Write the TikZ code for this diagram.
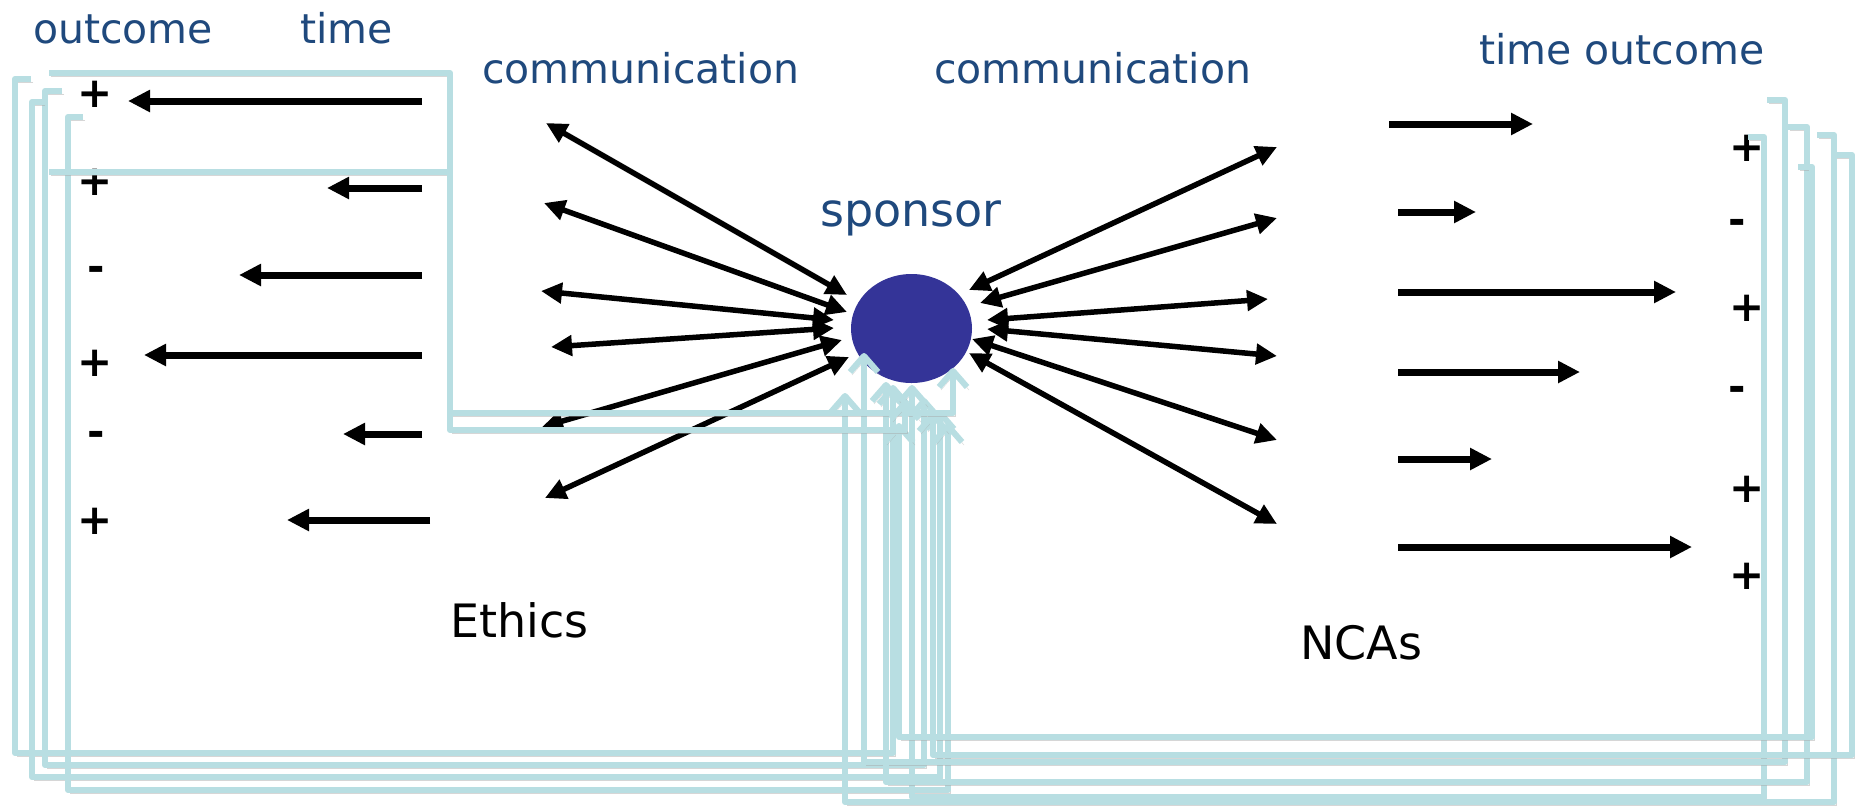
\documentclass[tikz,border=0pt]{standalone}
\usepackage{fontspec}
\setmainfont{DejaVu Sans}
\usetikzlibrary{arrows.meta,shapes.geometric}
\definecolor{lblue}{RGB}{184,222,226}
\definecolor{tblue}{RGB}{31,73,125}
\definecolor{spblue}{RGB}{52,52,152}
\begin{document}
\begin{tikzpicture}[x=1pt,y=-1pt,
  lbl/.style={text=tblue,font=\fontsize{41}{45}\selectfont,inner sep=0pt,anchor=base west},
  blk/.style={text=black,font=\fontsize{46}{50}\selectfont,inner sep=0pt,anchor=base west},
  sign/.style={font=\fontsize{42}{46}\selectfont\bfseries,inner sep=0pt},
  tarrow/.style={line width=7pt,-{Triangle[length=22pt,width=21pt]}},
  carrow/.style={line width=5.5pt,{Triangle[length=21pt,width=20pt]}-{Triangle[length=21pt,width=20pt]}},
  fb/.style={draw=lblue,line width=6pt,line join=round,
     -{Straight Barb[length=16pt,width=28pt,line join=round]},
     preaction={draw=black!35,opacity=0.45,transform canvas={shift={(2,3)}}}}
]
\useasboundingbox (0,0) rectangle (1866,809);
\fill[white] (0,0) rectangle (1866,809);

% labels
\node[lbl] (lout) at (33,43) {outcome};
\node[lbl] (ltime) at (300,43) {time};
\node[lbl] (lcom) at (482,83) {communication};
\node[lbl] (rcom) at (934,83) {communication};
\node[lbl] (rto) at (1479,64) {time outcome};
\node[lbl,font=\fontsize{46}{50}\selectfont] (sptxt) at (820,226) {sponsor};
\node[blk] (eth) at (450,637) {Ethics};
\node[blk] (nca) at (1300,659) {NCAs};

% sponsor
\node[ellipse,fill=spblue,minimum width=121pt,minimum height=109pt,inner sep=0pt] (sponsor) at (911.5,328.5) {};

% left signs
\node[sign] (ls1) at (95,94) {+};
\node[sign] (ls2) at (95,182) {+};
\node[sign] (ls3) at (96,274) {-};
\node[sign] (ls4) at (95,363) {+};
\node[sign] (ls5) at (96,439) {-};
\node[sign] (ls6) at (95,521) {+};
% right signs
\node[sign] (rs1) at (1747,148) {+};
\node[sign] (rs2) at (1737,227) {-};
\node[sign] (rs3) at (1747,308) {+};
\node[sign] (rs4) at (1737,394) {-};
\node[sign] (rs5) at (1747,489) {+};
\node[sign] (rs6) at (1747,576) {+};

% left time arrows
\coordinate (lt1) at (422,101); \coordinate (lh1) at (128,101);
\coordinate (lt2) at (422,188); \coordinate (lh2) at (327,188);
\coordinate (lt3) at (422,275); \coordinate (lh3) at (239,275);
\coordinate (lt4) at (422,355); \coordinate (lh4) at (144,355);
\coordinate (lt5) at (422,434); \coordinate (lh5) at (343,434);
\coordinate (lt6) at (430,520); \coordinate (lh6) at (287,520);
\foreach \i in {1,...,6} {\draw[tarrow] (lt\i) -- (lh\i);}

% right time arrows
\coordinate (rt1) at (1389,124); \coordinate (rh1) at (1533,124);
\coordinate (rt2) at (1398,212); \coordinate (rh2) at (1476,212);
\coordinate (rt3) at (1398,292); \coordinate (rh3) at (1676,292);
\coordinate (rt4) at (1398,372); \coordinate (rh4) at (1580,372);
\coordinate (rt5) at (1398,459); \coordinate (rh5) at (1492,459);
\coordinate (rt6) at (1398,547); \coordinate (rh6) at (1692,547);
\foreach \i in {1,...,6} {\draw[tarrow] (rt\i) -- (rh\i);}

% communication arrows, left
\coordinate (lc1) at (546,123); \coordinate (sl1) at (847,295);
\coordinate (lc2) at (544,203); \coordinate (sl2) at (847,312);
\coordinate (lc3) at (541,291); \coordinate (sl3) at (834,320);
\coordinate (lc4) at (551,347); \coordinate (sl4) at (834,328);
\coordinate (lc5) at (542,427); \coordinate (sl5) at (842,340);
\coordinate (lc6) at (545,498); \coordinate (sl6) at (849,357);
% right
\coordinate (rc1) at (1277,147); \coordinate (sr1) at (969,290);
\coordinate (rc2) at (1277,218); \coordinate (sr2) at (980,303);
\coordinate (rc3) at (1268,299); \coordinate (sr3) at (987,320);
\coordinate (rc4) at (1277,356); \coordinate (sr4) at (987,329);
\coordinate (rc5) at (1277,440); \coordinate (sr5) at (972,339);
\coordinate (rc6) at (1277,524); \coordinate (sr6) at (969,353);
\foreach \i in {1,...,6} {\draw[carrow] (lc\i) -- (sl\i); \draw[carrow] (rc\i) -- (sr\i);}

% feedback connectors, left group
\coordinate (fa) at (49,73);
\coordinate (fbb) at (49,172);
\coordinate (fl1) at (31,79);
\coordinate (fl2) at (62,91);
\coordinate (fl3) at (43,102);
\coordinate (fl4) at (83,117);
% right group
\coordinate (fr1) at (1748,137);
\coordinate (fr2) at (1767,100);
\coordinate (fr3) at (1788,127);
\coordinate (fr4) at (1798,167);
\coordinate (fr5) at (1817,135);
\coordinate (fr6) at (1835,155);

\draw[fb] (fl1) -- (15,79) -- (15,753) -- (893,753) -- (893,385);
\draw[fb] (fl2) -- (45,91) -- (45,765) -- (924,765) -- (924,398);
\draw[fb] (fl3) -- (32,102) -- (32,777) -- (940,777) -- (940,410);
\draw[fb] (fl4) -- (68,117) -- (68,790) -- (948,790) -- (948,423);
\draw[fb] (fr1) -- (1764,137) -- (1764,797) -- (912,797) -- (912,385);
\draw[fb] (fr2) -- (1785,100) -- (1785,762) -- (864,762) -- (864,353);
\draw[fb] (fr3) -- (1807,127) -- (1807,782) -- (886,782) -- (886,382);
\draw[fb] (fr4) -- (1812,167) -- (1812,737) -- (899,737) -- (899,423);
\draw[fb] (fr5) -- (1834,135) -- (1834,802) -- (845,802) -- (845,393);
\draw[fb] (fr6) -- (1852,155) -- (1852,755) -- (933,755) -- (933,412);
\draw[fb] (fa) -- (450,73) -- (450,413) -- (953,413) -- (953,368);
\draw[fb] (fbb) -- (450,172) -- (450,430) -- (905,430) -- (905,400);
\end{tikzpicture}
\end{document}
